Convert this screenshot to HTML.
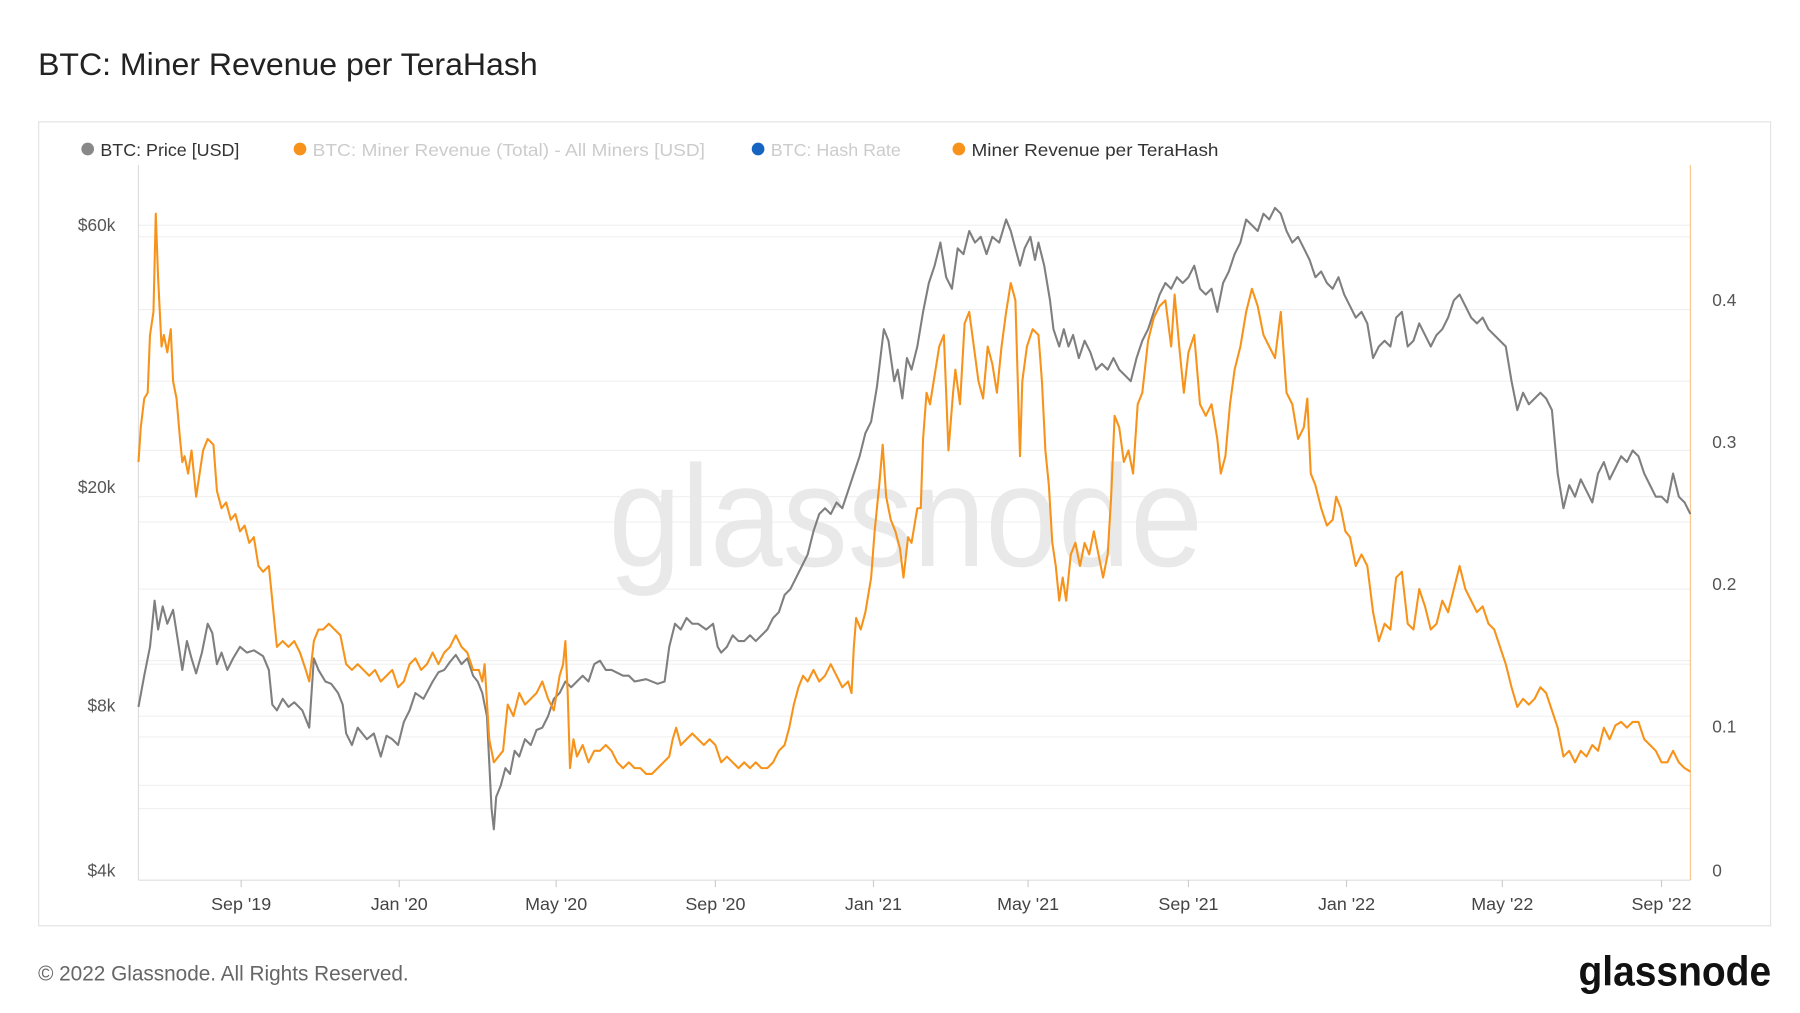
<!DOCTYPE html>
<html><head><meta charset="utf-8"><style>
html,body{margin:0;padding:0;background:#fff;}
svg{display:block;font-family:"Liberation Sans",sans-serif;}
</style></head><body>
<svg width="1800" height="1013" viewBox="0 0 1560 877" preserveAspectRatio="none" xmlns="http://www.w3.org/2000/svg">
<rect width="1560" height="877" fill="#fff"/>
<text x="33" y="65" font-size="27" fill="#222" textLength="433" lengthAdjust="spacingAndGlyphs">BTC: Miner Revenue per TeraHash</text>
<rect x="33.5" y="105.5" width="1501" height="696" fill="#fff" stroke="#e3e3e3"/>
<g font-size="15.5">
<circle cx="76" cy="129" r="5.5" fill="#888"/><text x="87" y="135" fill="#333">BTC: Price [USD]</text>
<circle cx="260" cy="129" r="5.5" fill="#f7931a"/><text x="271" y="135" fill="#ccc" textLength="340" lengthAdjust="spacingAndGlyphs">BTC: Miner Revenue (Total) - All Miners [USD]</text>
<circle cx="657" cy="129" r="5.5" fill="#1565c0"/><text x="668" y="135" fill="#ccc">BTC: Hash Rate</text>
<circle cx="831" cy="129" r="5.5" fill="#f7931a"/><text x="842" y="135" fill="#333" textLength="214" lengthAdjust="spacingAndGlyphs">Miner Revenue per TeraHash</text>
</g>
<g stroke="#f0f0f0" stroke-width="1">
<line x1="120" x2="1465" y1="195" y2="195"/><line x1="120" x2="1465" y1="205" y2="205"/>
<line x1="120" x2="1465" y1="268" y2="268"/><line x1="120" x2="1465" y1="330" y2="330"/>
<line x1="120" x2="1465" y1="390" y2="390"/><line x1="120" x2="1465" y1="430" y2="430"/>
<line x1="120" x2="1465" y1="452" y2="452"/><line x1="120" x2="1465" y1="510" y2="510"/>
<line x1="120" x2="1465" y1="572" y2="572"/><line x1="120" x2="1465" y1="575" y2="575"/>
<line x1="120" x2="1465" y1="620" y2="620"/><line x1="120" x2="1465" y1="638" y2="638"/>
<line x1="120" x2="1465" y1="680" y2="680"/><line x1="120" x2="1465" y1="700" y2="700"/>
</g>
<line x1="120" y1="143" x2="120" y2="762" stroke="#ddd"/>
<line x1="120" y1="762" x2="1465" y2="762" stroke="#ddd"/>
<line x1="1465" y1="143" x2="1465" y2="762" stroke="#f7c58a"/>
<g stroke="#ccc"><line x1="209" x2="209" y1="762" y2="768"/><line x1="346" x2="346" y1="762" y2="768"/><line x1="482" x2="482" y1="762" y2="768"/><line x1="620" x2="620" y1="762" y2="768"/><line x1="757" x2="757" y1="762" y2="768"/><line x1="891" x2="891" y1="762" y2="768"/><line x1="1030" x2="1030" y1="762" y2="768"/><line x1="1167" x2="1167" y1="762" y2="768"/><line x1="1302" x2="1302" y1="762" y2="768"/><line x1="1440" x2="1440" y1="762" y2="768"/></g>
<text x="785" y="490" font-size="125" fill="#e9e9e9" text-anchor="middle" textLength="515" lengthAdjust="spacingAndGlyphs">glassnode</text>
<g font-size="15" fill="#555" text-anchor="end">
<text x="100" y="200">$60k</text><text x="100" y="427">$20k</text><text x="100" y="616">$8k</text><text x="100" y="759">$4k</text>
</g>
<g font-size="15" fill="#555">
<text x="1484" y="265">0.4</text><text x="1484" y="388">0.3</text><text x="1484" y="511">0.2</text><text x="1484" y="634">0.1</text><text x="1484" y="759">0</text>
</g>
<g font-size="15.5" fill="#444" text-anchor="middle">
<text x="209" y="788">Sep '19</text><text x="346" y="788">Jan '20</text><text x="482" y="788">May '20</text><text x="620" y="788">Sep '20</text><text x="757" y="788">Jan '21</text><text x="891" y="788">May '21</text><text x="1030" y="788">Sep '21</text><text x="1167" y="788">Jan '22</text><text x="1302" y="788">May '22</text><text x="1440" y="788">Sep '22</text>
</g>
<polyline fill="none" stroke="#7f7f7f" stroke-width="1.8" stroke-linejoin="round" points="120,612 125,585 130,560 134,520 137,545 141,525 145,540 150,528 155,560 158,580 162,555 166,570 170,583 175,565 180,540 184,548 188,575 192,565 197,580 202,570 208,560 214,565 220,563 228,568 233,580 236,610 240,615 245,605 250,612 255,608 262,615 268,630 272,570 276,580 282,590 287,592 293,600 297,610 300,635 305,645 310,630 318,640 324,635 330,655 335,637 340,640 345,645 350,625 355,615 360,600 367,605 375,590 380,582 385,580 390,573 395,567 400,575 405,570 410,585 414,590 418,600 422,620 426,700 428,718 430,690 434,680 438,665 442,670 446,650 450,655 455,640 460,645 465,632 470,630 475,620 480,605 485,600 490,590 495,595 500,590 505,585 510,590 515,575 520,572 525,580 530,580 540,585 545,585 550,590 560,588 570,592 576,590 580,560 585,540 590,545 595,535 600,540 605,540 612,545 618,540 622,560 625,565 630,560 635,550 640,555 645,555 650,550 655,555 660,550 665,545 670,535 675,530 680,515 685,510 690,500 695,490 700,480 705,460 710,445 715,440 720,445 725,435 730,440 735,425 740,410 745,395 750,375 755,365 760,335 763,310 766,285 770,295 775,330 778,320 782,345 786,310 790,320 795,300 800,270 805,245 810,230 815,210 820,240 825,250 830,215 835,220 840,200 845,210 850,205 855,220 860,205 866,210 872,190 876,200 880,215 884,230 888,215 893,205 897,225 900,210 905,230 910,260 913,285 918,300 922,285 926,300 930,290 935,310 940,295 945,305 950,320 955,315 960,320 965,310 970,320 975,325 980,330 985,310 990,295 995,285 1000,270 1005,255 1010,245 1015,250 1020,240 1025,245 1030,240 1035,230 1040,250 1045,255 1050,250 1055,270 1060,245 1065,235 1070,220 1075,210 1080,190 1085,195 1090,200 1095,185 1100,190 1105,180 1110,185 1115,200 1120,210 1125,205 1130,215 1135,225 1140,240 1145,235 1150,245 1155,250 1160,240 1165,255 1170,265 1175,275 1180,270 1185,280 1190,310 1195,300 1200,295 1205,300 1210,275 1215,270 1220,300 1225,295 1230,280 1235,290 1240,300 1245,290 1250,285 1255,275 1260,260 1265,255 1270,265 1275,275 1280,280 1285,275 1290,285 1295,290 1300,295 1305,300 1310,330 1315,355 1320,340 1325,350 1330,345 1335,340 1340,345 1345,355 1350,410 1355,440 1360,420 1365,430 1370,415 1375,425 1380,435 1385,410 1390,400 1395,415 1400,405 1405,395 1410,400 1415,390 1420,395 1425,410 1430,420 1435,430 1440,430 1445,435 1450,410 1455,430 1460,435 1465,445"/>
<polyline fill="none" stroke="#f7931a" stroke-width="1.8" stroke-linejoin="round" points="120,400 122,370 125,345 128,340 130,290 133,270 135,185 137,240 140,300 142,290 145,305 148,285 150,330 153,345 156,380 158,400 160,395 163,410 166,390 170,430 173,410 176,390 180,380 185,385 188,425 192,440 196,435 200,450 204,445 208,460 212,455 216,470 220,465 224,490 228,495 233,490 237,530 240,560 245,555 250,560 255,555 260,565 265,580 268,590 272,555 276,545 280,545 285,540 290,545 295,550 300,575 305,580 310,575 315,580 320,585 325,580 330,590 335,585 340,580 345,595 350,590 355,575 360,570 365,580 370,575 375,565 380,575 385,565 390,560 395,550 400,560 405,565 410,580 415,580 418,590 420,575 424,640 428,660 432,655 436,650 440,610 445,620 450,600 455,610 460,605 465,600 470,590 475,605 480,615 485,585 488,575 490,555 492,600 494,665 497,640 500,655 505,645 510,660 515,650 520,650 525,645 530,650 535,660 540,665 545,660 550,665 555,665 560,670 565,670 570,665 575,660 580,655 583,640 586,630 590,645 595,640 600,635 605,640 610,645 615,640 620,645 625,660 630,655 635,660 640,665 645,660 650,665 655,660 660,665 665,665 670,660 675,650 680,645 684,630 688,610 692,595 696,585 700,590 705,580 710,590 715,585 720,575 725,585 730,595 735,590 738,600 740,560 742,535 746,545 750,530 755,500 758,460 762,420 765,385 768,430 772,450 776,460 780,475 783,500 787,465 790,470 795,440 798,440 800,380 803,340 806,350 810,325 814,300 818,290 822,390 826,340 828,320 832,350 836,280 840,270 844,300 848,330 852,345 856,300 860,315 864,340 868,300 872,270 876,245 880,260 884,395 886,330 890,300 895,285 900,290 903,330 906,390 909,420 912,470 915,490 918,520 921,500 924,520 928,480 932,470 936,490 940,470 944,480 948,460 952,480 956,500 960,480 963,430 966,360 970,370 974,400 978,390 982,410 986,350 990,340 995,295 1000,275 1005,265 1010,260 1015,300 1018,255 1022,300 1026,340 1030,305 1035,290 1040,350 1045,360 1050,350 1055,380 1058,410 1062,395 1066,350 1070,320 1075,300 1080,270 1085,250 1090,265 1095,290 1100,300 1105,310 1110,270 1115,340 1120,350 1125,380 1130,370 1133,345 1136,410 1140,420 1145,440 1150,455 1155,450 1158,430 1162,440 1166,460 1170,465 1175,490 1180,480 1185,490 1190,530 1195,555 1200,540 1205,545 1210,500 1215,495 1220,540 1225,545 1230,510 1235,525 1240,545 1245,540 1250,520 1255,530 1260,510 1265,490 1270,510 1275,520 1280,530 1285,525 1290,540 1295,545 1300,560 1305,575 1310,595 1315,612 1320,605 1325,610 1330,605 1335,595 1340,600 1345,615 1350,630 1355,655 1360,650 1365,660 1370,650 1375,655 1380,645 1385,650 1390,630 1395,640 1400,628 1405,625 1410,630 1415,625 1420,625 1425,640 1430,645 1435,650 1440,660 1445,660 1450,650 1455,660 1460,665 1465,668"/>
<text x="33" y="849" font-size="18" fill="#666">© 2022 Glassnode. All Rights Reserved.</text>
<text x="1535" y="853" font-size="36" fill="#111" text-anchor="end" font-weight="bold" textLength="167" lengthAdjust="spacingAndGlyphs">glassnode</text>
</svg>
</body></html>
